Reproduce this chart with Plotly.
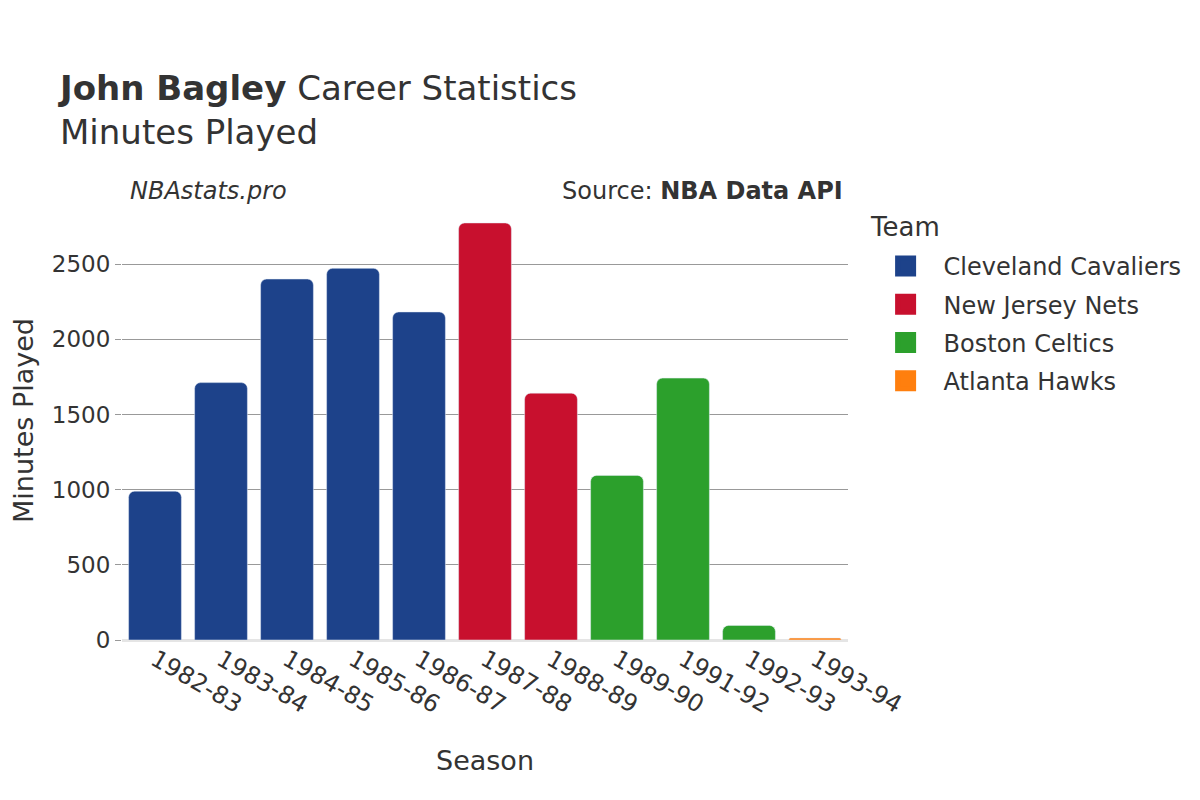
import plotly.graph_objects as go

seasons = ["1982-83", "1983-84", "1984-85", "1985-86", "1986-87", "1987-88",
           "1988-89", "1989-90", "1991-92", "1992-93", "1993-94"]
teams = ["Cleveland Cavaliers", "Cleveland Cavaliers", "Cleveland Cavaliers",
         "Cleveland Cavaliers", "Cleveland Cavaliers", "New Jersey Nets",
         "New Jersey Nets", "Boston Celtics", "Boston Celtics", "Boston Celtics",
         "Atlanta Hawks"]
minutes = [990, 1712, 2401, 2472, 2182, 2774, 1642, 1095, 1742, 97, 13]

team_order = ["Cleveland Cavaliers", "New Jersey Nets", "Boston Celtics", "Atlanta Hawks"]
team_colors = {
    "Cleveland Cavaliers": "#1d428a",
    "New Jersey Nets": "#c8102e",
    "Boston Celtics": "#2ca02c",
    "Atlanta Hawks": "#ff7f0e",
}

FONT = "DejaVu Sans"
TEXT = "#333333"

fig = go.Figure()
for team in team_order:
    xs = [s for s, t in zip(seasons, teams) if t == team]
    ys = [m for m, t in zip(minutes, teams) if t == team]
    fig.add_trace(go.Bar(
        x=xs,
        y=ys,
        name=team,
        legendgroup=team,
        showlegend=False,
        marker=dict(color=team_colors[team], cornerradius=6),
    ))
    # empty trace used only for a bigger legend swatch
    fig.add_trace(go.Scatter(
        x=[None],
        y=[None],
        mode="markers",
        name=team,
        legendgroup=team,
        marker=dict(symbol="square", size=16, color=team_colors[team],
                    line=dict(width=5, color=team_colors[team])),
    ))

fig.update_layout(
    width=1200,
    height=800,
    barmode="relative",
    bargap=0.2,
    plot_bgcolor="white",
    paper_bgcolor="white",
    font=dict(family=FONT, color=TEXT),
    title=dict(
        text="<b>John Bagley</b> Career Statistics<br>Minutes Played",
        x=52 / 1200, xanchor="left",
        y=0.885, yanchor="top",
        font=dict(size=34, color=TEXT),
    ),
    margin=dict(l=114, r=360, t=193, b=168),
    xaxis=dict(
        title=dict(text="Season", font=dict(size=27), standoff=33),
        automargin=False,
        categoryorder="array",
        categoryarray=seasons,
        tickangle=30,
        tickfont=dict(size=24),
        showgrid=False,
    ),
    yaxis=dict(
        title=dict(text="Minutes Played", font=dict(size=27), standoff=38),
        automargin=False,
        tickfont=dict(size=23),
        gridcolor="#999999",
        ticks="outside",
        ticklen=6,
        tickcolor="#999999",
        zeroline=True,
        zerolinecolor="#e5e5e5",
        zerolinewidth=3,
        dtick=500,
    ),
    legend=dict(
        font=dict(size=24),
        itemwidth=66,
        tracegroupgap=4,
        x=1.027, xanchor="left",
        y=0.902, yanchor="top",
    ),
    annotations=[
        dict(text="Team", xref="paper", yref="paper",
             x=1.0275, y=0.9408, xanchor="left", yanchor="middle",
             showarrow=False, font=dict(size=26, color=TEXT)),
        dict(text="<i>NBAstats.pro</i>", xref="paper", yref="paper",
             x=0.008, y=1.023, xanchor="left", yanchor="middle",
             showarrow=False, font=dict(size=24, color=TEXT)),
        dict(text="Source: <b>NBA Data API</b>", xref="paper", yref="paper",
             x=0.996, y=1.023, xanchor="right", yanchor="middle",
             showarrow=False, font=dict(size=24, color=TEXT)),
    ],
)

fig.write_html("out.html")
